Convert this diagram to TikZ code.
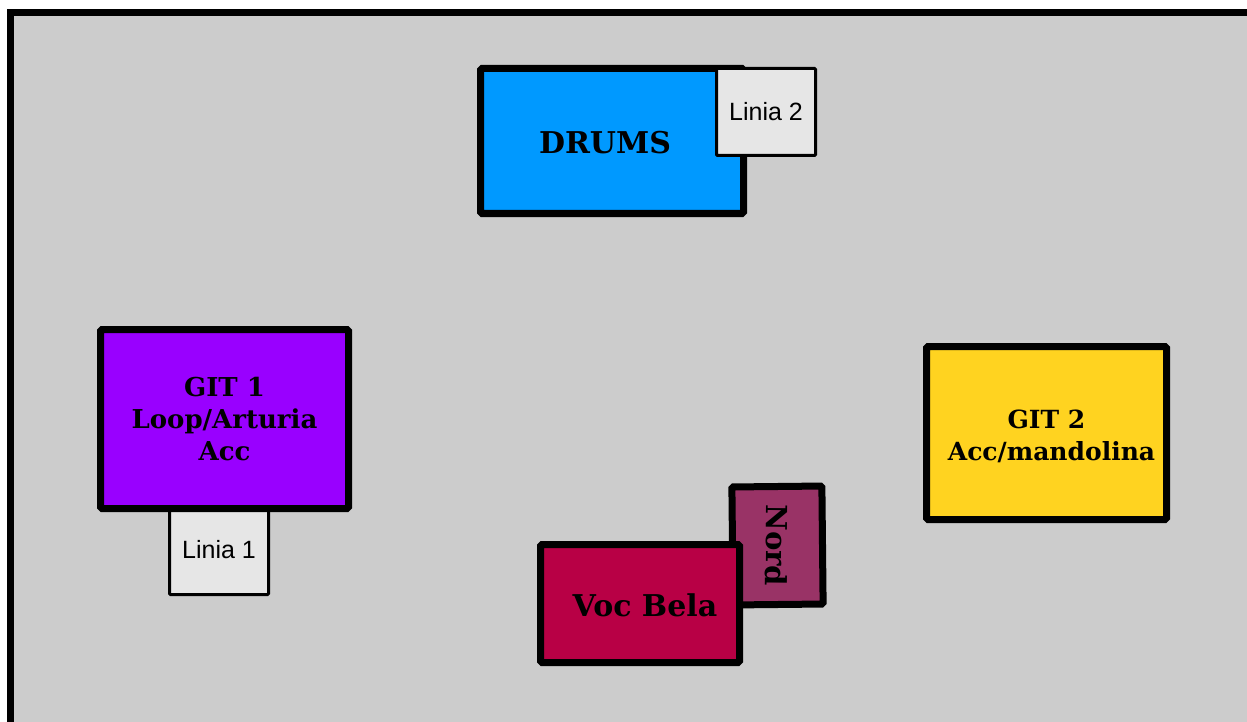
\documentclass[tikz,border=0pt]{standalone}
\usepackage{fontspec}
\setmainfont{Liberation Sans}
\newfontfamily\stencil{DejaVu Serif}
\definecolor{bggrey}{HTML}{CCCCCC}
\definecolor{tagfill}{HTML}{E6E6E6}
\definecolor{drumblue}{HTML}{0099FF}
\definecolor{gitpurple}{HTML}{9900FF}
\definecolor{gityellow}{HTML}{FFD320}
\definecolor{vocred}{HTML}{B80045}
\definecolor{nordplum}{HTML}{993366}
\begin{document}
\begin{tikzpicture}[x=1pt,y=-1pt,
  box/.style={draw=black, line width=7pt, rounded corners=1.5pt, inner sep=0pt},
  boxtext/.style={inner sep=0pt, align=center, font=\stencil\bfseries\fontsize{26}{32}\selectfont},
  tag/.style={draw=black, line width=3pt, fill=tagfill, rounded corners=1pt, inner sep=0pt,
    font=\fontsize{25}{28}\selectfont}]
\useasboundingbox (0,0) rectangle (1247,722);
\fill[white] (0,0) rectangle (1247,722);
\fill[bggrey] (10,12) rectangle (1247,722);
\draw[line width=7pt] (10.5,760) -- (10.5,12.5) -- (1260,12.5);
% GIT 1
\node[tag, minimum width=99pt, minimum height=90pt] (linia1) at (219,549.5) {Linia 1};
\node[box, fill=gitpurple, minimum width=248pt, minimum height=179pt] (git1) at (224.5,419) {};
\node[boxtext] (git1text) at (git1.center) {GIT 1\\Loop/Arturia\\Acc};
% DRUMS
\node[box, fill=drumblue, minimum width=263pt, minimum height=145pt] (drums) at (612,141) {};
\node[boxtext, font=\stencil\bfseries\fontsize{30}{32}\selectfont] (drumstext) at ([xshift=-7pt,yshift=-2pt]drums.center) {DRUMS};
\node[tag, minimum width=99pt, minimum height=87pt] (linia2) at (766,112) {Linia 2};
% Nord + Voc Bela
\node[box, fill=nordplum, minimum width=90pt, minimum height=118pt, rotate=0.6] (nord) at (777.5,545.5) {};
\node[boxtext, rotate=-90.6, font=\stencil\bfseries\fontsize{29}{32}\selectfont] (nordtext) at ([xshift=-0.5pt]nord.center) {Nord};
\node[box, fill=vocred, minimum width=199pt, minimum height=118pt] (voc) at (640,603.5) {};
\node[boxtext, font=\stencil\bfseries\fontsize{30}{32}\selectfont] (voctext) at ([xshift=5pt,yshift=-1.5pt]voc.center) {Voc Bela};
% GIT 2
\node[box, fill=gityellow, minimum width=240pt, minimum height=173pt] (git2) at (1046.5,433) {};
\node[boxtext, font=\stencil\bfseries\fontsize{25}{32}\selectfont] (git2text) at ([yshift=-3pt]git2.center) {GIT 2\\\hspace*{10pt}Acc/mandolina};
\end{tikzpicture}
\end{document}
